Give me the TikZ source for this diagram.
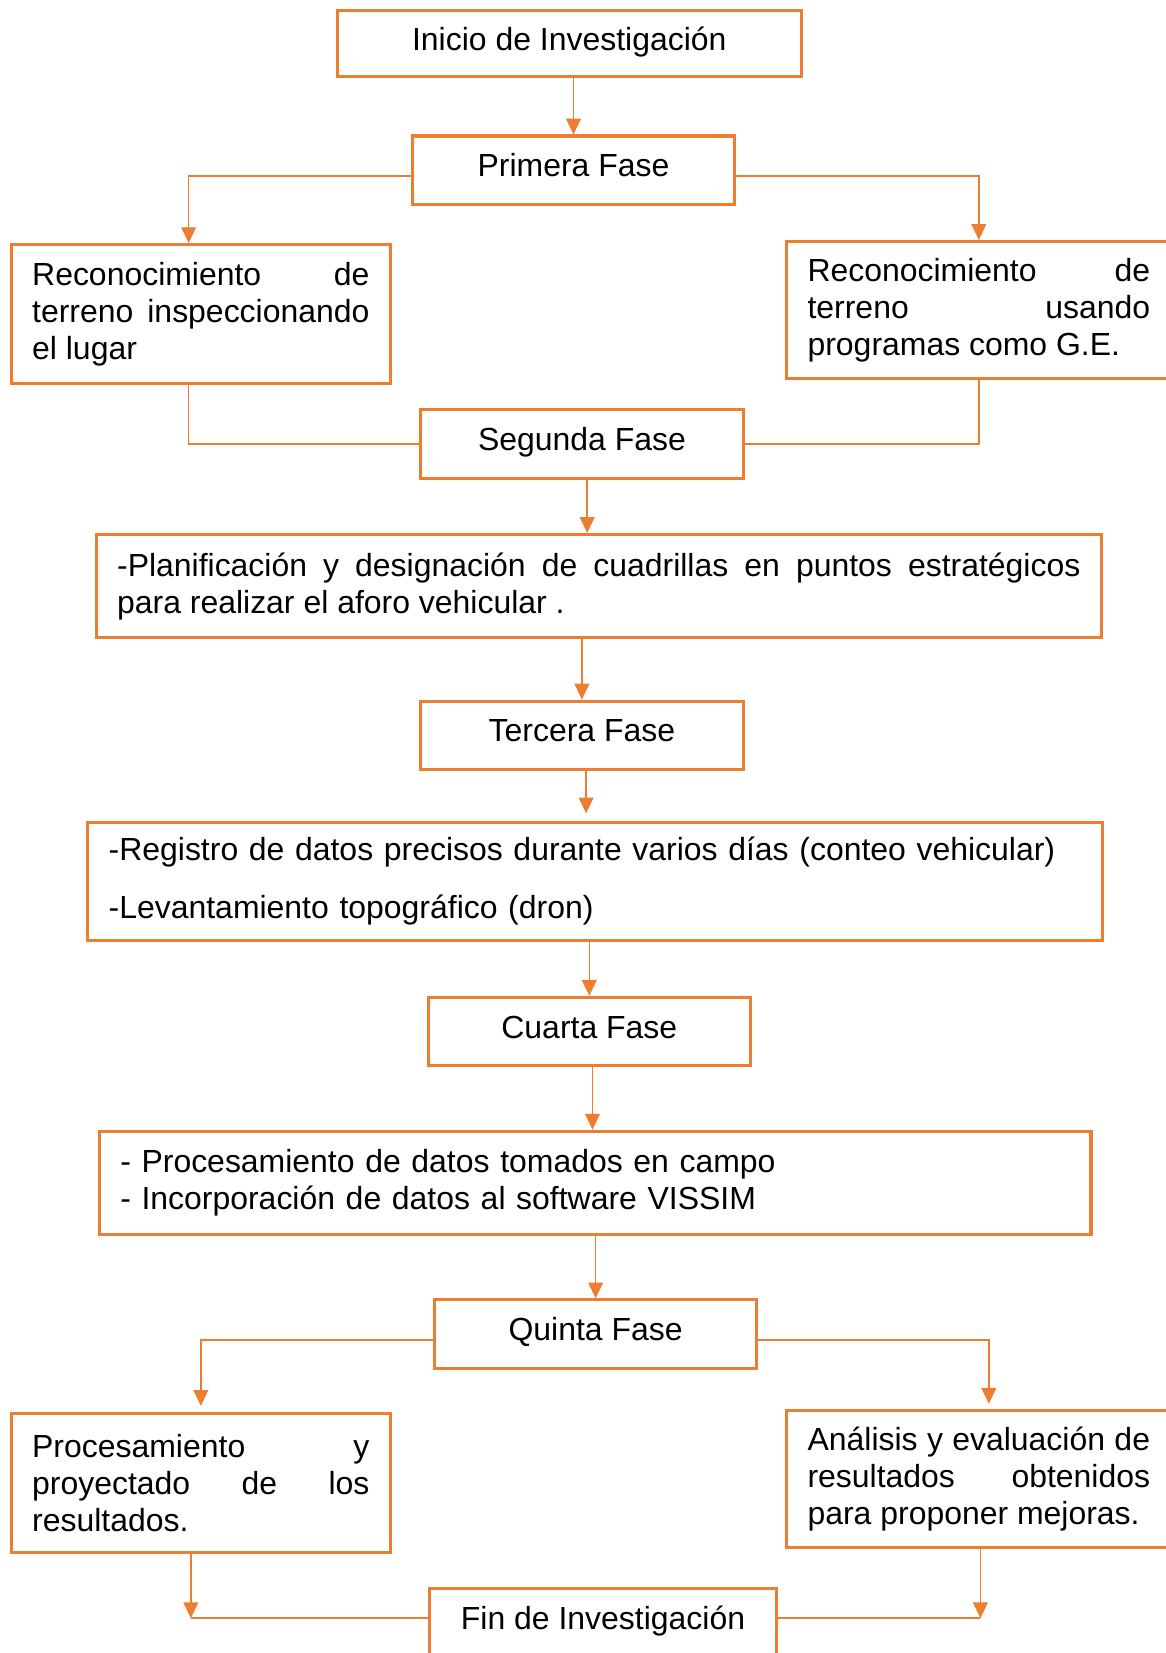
\documentclass[tikz,border=0pt]{standalone}
\usepackage{fontspec}
\setmainfont{Liberation Sans}
\usetikzlibrary{arrows.meta,positioning}
\definecolor{naranja}{HTML}{ED7D31}
\tikzset{
    %Define standard arrow tip
    >={Triangle[width=0.28cm,length=0.3cm]},
    % Define arrow style
    flecha/.style={
           ->,
           draw=naranja,
           line width=0.8pt,},
    % Define line style (no tip)
    linea/.style={
           draw=naranja,
           line width=0.8pt,}
}

\begin{document}
\begin{tikzpicture}[
x=0.02cm, y=-0.02cm,
font=\fontsize{17.25}{19.9}\selectfont,
fase/.style={rectangle, draw=naranja, line width=1.65pt, minimum width=6.12cm, minimum height=1.3cm, text height=0.5cm, text depth=0.25cm},
caja/.style={rectangle, draw=naranja, line width=1.65pt, inner xsep=0.4cm, align=justify,
             execute at begin node={\tolerance=10000\hyphenpenalty=10000}},
]
\useasboundingbox (0,0) rectangle (1106,1568);

%Nodes
\node[fase, minimum width=8.8cm, minimum height=1.26cm](inicio) at (540,41.5){Inicio de Investigación};
\node[fase](primera) at (544,161.5){Primera Fase};

\node[caja, text width=6.4cm, minimum height=2.64cm](recizq) at (190.5,298){Reconocimiento de\linebreak terreno inspeccionando\linebreak el lugar};
\node[caja, text width=6.5cm, minimum height=2.6cm](recder) at (928.5,294){Reconocimiento de\linebreak terreno usando\linebreak programas como G.E.};

\node[fase](segunda) at (552,421){Segunda Fase};
\node[caja, text width=18.28cm, minimum height=1.96cm](plan) at (568,556){-Planificación y designación de cuadrillas en puntos estratégicos\linebreak para realizar el aforo vehicular .};

\node[fase](tercera) at (552,697.5){Tercera Fase};
\node[caja, align=left, text width=18.46cm, minimum height=2.24cm](registro) at (564.5,836){-Registro de datos precisos durante varios días (conteo vehicular)\\[0.4cm] -Levantamiento topográfico (dron)};

\node[fase](cuarta) at (559,978.5){Cuarta Fase};
\node[caja, align=left, text width=18.02cm, minimum height=1.96cm](proc) at (564.5,1122){- Procesamiento de datos tomados en campo\\ - Incorporación de datos al software VISSIM};

\node[fase](quinta) at (565,1265.5){Quinta Fase};
\node[caja, text width=6.4cm, minimum height=2.64cm](procizq) at (190.5,1407){Procesamiento y\linebreak proyectado de los\linebreak resultados.};
\node[caja, text width=6.5cm, minimum height=2.6cm](analisis) at (928.5,1403){Análisis y evaluación de\linebreak resultados obtenidos\linebreak para proponer mejoras.};

\node[fase, minimum width=6.6cm](fin) at (572,1539.5){Fin de Investigación};

%Connectors
\draw[flecha] (inicio.south -| primera.north) -- (primera.north);
\draw[flecha] ([yshift=-0.11cm]primera.west) -| ([xshift=-0.23cm]recizq.north);
\draw[flecha] ([yshift=-0.11cm]primera.east) -| (recder.north);
\draw[linea] ([xshift=-0.23cm]recizq.south) |- (segunda.west);
\draw[linea] (recder.south) |- (segunda.east);
\draw[flecha] ([xshift=0.1cm]segunda.south) -- ([xshift=0.1cm]segunda.south |- plan.north);
\draw[flecha] (plan.south -| tercera.north) -- (tercera.north);
\draw[flecha, shorten >=0.14cm] ([xshift=0.08cm]tercera.south) -- ([xshift=0.08cm]tercera.south |- registro.north);
\draw[flecha] (registro.south -| cuarta.north) -- (cuarta.north);
\draw[flecha] ([xshift=0.06cm]cuarta.south) -- ([xshift=0.06cm]cuarta.south |- proc.north);
\draw[flecha] (proc.south -| quinta.north) -- (quinta.north);
\draw[flecha, shorten >=0.12cm] ([yshift=-0.11cm]quinta.west) -| (procizq.north);
\draw[flecha, shorten >=0.1cm] ([yshift=-0.11cm]quinta.east) -| ([xshift=0.19cm]analisis.north);
\draw[flecha] ([xshift=-0.19cm]procizq.south) -- ([xshift=-0.19cm,yshift=0.09cm]procizq.south |- fin.west);
\draw[linea] ([yshift=0.09cm]fin.west) -- ([xshift=-0.19cm,yshift=0.09cm]procizq.south |- fin.west);
\draw[flecha] ([xshift=0.03cm]analisis.south) -- ([xshift=0.03cm,yshift=0.09cm]analisis.south |- fin.east);
\draw[linea] ([yshift=0.09cm]fin.east) -- ([xshift=0.03cm,yshift=0.09cm]analisis.south |- fin.east);

\end{tikzpicture}
\end{document}
